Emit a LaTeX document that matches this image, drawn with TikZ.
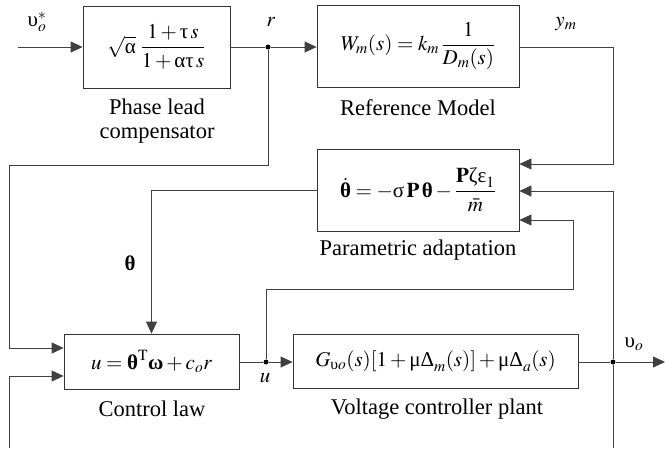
\documentclass[tikz,border=0pt]{standalone}
\usepackage{amsmath}
\usepackage{mathptmx}
\usepackage[no-math]{fontspec}
\setmainfont{Liberation Serif}
\newfontfamily\capfont{Liberation Serif}
\usetikzlibrary{arrows.meta,positioning,calc}
% upright greek (plain and bold) taken from the text font
\newcommand{\ug}[1]{\text{\capfont #1}}
\newcommand{\bg}[1]{\text{\capfont\bfseries #1}}

\begin{document}
\begin{tikzpicture}[
  x=1pt,y=-1pt,
  font=\capfont\fontsize{21}{25}\selectfont,
  blk/.style={draw=black!80,line width=0.8pt,inner sep=0pt,minimum height=82pt},
  wire/.style={line width=0.8pt,draw=black!75},
  sig/.style={wire,-{Triangle[length=12pt,width=11pt]}},
  jct/.style={circle,fill=black,inner sep=0pt,minimum size=5pt},
  capt/.style={align=center,font=\capfont\fontsize{22.5}{24}\selectfont},
  lbl/.style={inner sep=0pt}
]
\useasboundingbox (0,0) rectangle (665,448);

% ---- blocks ----
\node[blk,minimum width=147pt] (lead) at (156.5,47)
  {$\sqrt{\ug{α}}\;\dfrac{1+\ug{τ}\,s}{1+\ug{ατ}\,s}$};
\node[blk,minimum width=202pt] (refm) at (418,46)
  {$W_m(s)=k_m\,\dfrac{1}{D_m(s)}$};
\node[blk,minimum width=202pt] (adapt) at (418,190)
  {$\dot{\bg{θ}}=-\ug{σ}\,\mathbf{P}\,\bg{θ}-\dfrac{\mathbf{P}\ug{ζε}_1}{\bar m}$};
\node[blk,minimum width=175pt,minimum height=55pt] (ctrl) at (151.5,361.5)
  {$u=\bg{θ}^{\mathrm{T}}\bg{ω}+c_o r$};
\node[blk,minimum width=285pt,minimum height=54pt] (plant) at (435.5,361)
  {$G_{\ug{υ}o}(s)[1+\ug{μΔ}_m(s)]+\ug{μΔ}_a(s)$};

% ---- captions ----
\node[capt] (leadcap) at (157,121) {Phase lead\\compensator};
\node[capt] (refmcap) at (418,108) {Reference Model};
\node[capt] (adaptcap) at (418,250) {Parametric adaptation};
\node[capt] (ctrlcap) at (152,409) {Control law};
\node[capt] (plantcap) at (437,409) {Voltage controller plant};

% ---- junctions ----
\coordinate (in) at (18,47);
\node[jct] (r) at (268,47) {};
\node[jct] (u) at (266,362) {};
\node[jct] (vo) at (613,362) {};
\coordinate (out) at (665,362);
\coordinate (lowl) at (9,448);
\coordinate (lowr) at (613,448);

% ---- signal labels ----
\node[lbl] (vref) at (37,22) {$\ug{υ}_o^{*}$};
\node[lbl] (rl) at (271,22) {$r$};
\node[lbl] (yml) at (566,24) {$y_m$};
\node[lbl] (thl) at (130,263) {$\bg{θ}$};
\node[lbl] (ul) at (265,378) {$u$};
\node[lbl] (vol) at (634,344) {$\ug{υ}_o$};

% ---- forward path ----
\draw[sig] (in) -- (lead.west |- in);
\draw[wire] (lead.east |- r) -- (r);
\draw[sig] (r) -- (refm.west |- r);
\draw[wire] (ctrl.east |- u) -- (u);
\draw[sig] (u) -- (plant.west |- u);
\draw[wire] (plant.east |- vo) -- (vo);
\draw[sig] (vo) -- (out);

% ---- adaptation inputs ----
\draw[sig] (refm.east |- 0,47) -| (613,164) -- (adapt.east |- 0,164);
\draw[sig] (lowr) -- (vo) -- (613,191) -- (adapt.east |- 0,191);
\draw[sig] (u) |- (573,289) |- (adapt.east |- 0,220);

% ---- control law inputs ----
\draw[sig] (adapt.west) -| (ctrl.north);
\draw[sig] (r) |- (9,165) |- (ctrl.west |- 0,348);
\draw[sig] (lowl) |- (ctrl.west |- 0,376);

\end{tikzpicture}
\end{document}
